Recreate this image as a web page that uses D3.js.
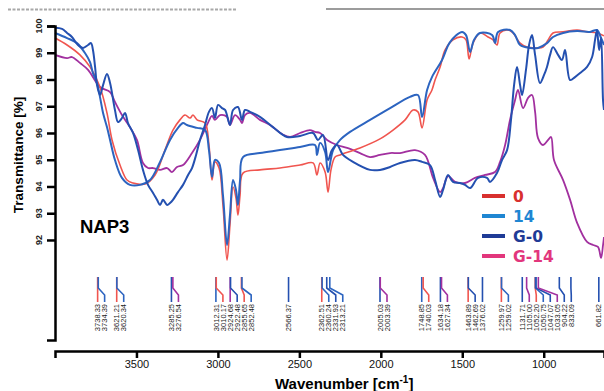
<!DOCTYPE html>
<html>
<head>
<meta charset="utf-8">
<script src="https://cdn.jsdelivr.net/npm/d3@7"></script>
<style>
  html, body { margin: 0; padding: 0; background: #fff; }
  svg { display: block; }
</style>
</head>
<body>
<div id="chart"></div>
<script>
// series names as in the legend
const seriesNames = ['0', '14', 'G-0', 'G-14'];

// [wavenumber cm-1, transmittance %]
const curve0 = [
  [4000, 99.55], [3926, 99.29], [3847, 98.92], [3785, 98.47], [3724, 97.72], [3681, 96.75],
  [3650, 95.74], [3601, 94.80], [3558, 94.24], [3521, 94.13], [3447, 94.09], [3386, 94.43],
  [3325, 95.36], [3276, 96.11], [3233, 96.49], [3202, 96.67], [3171, 96.56], [3153, 96.67],
  [3128, 96.49], [3079, 96.37], [3055, 95.55], [3036, 94.24], [3018, 94.92], [2993, 94.69],
  [2969, 93.31], [2944, 91.25], [2926, 92.56], [2907, 93.98], [2889, 93.57], [2877, 92.93],
  [2864, 93.68], [2846, 94.50], [2742, 94.62], [2619, 94.69], [2496, 94.80], [2416, 94.88],
  [2392, 94.43], [2373, 94.88], [2342, 94.54], [2324, 93.79], [2306, 94.62], [2281, 95.10],
  [2250, 95.18], [2128, 95.44], [2005, 95.78], [1925, 96.11], [1851, 96.49], [1802, 96.86],
  [1772, 96.79], [1747, 96.19], [1716, 97.23], [1686, 97.61], [1667, 97.98], [1636, 98.47],
  [1606, 99.10], [1557, 99.48], [1501, 99.59], [1477, 99.48], [1458, 98.77], [1434, 99.36],
  [1391, 99.74], [1342, 99.59], [1311, 99.48], [1287, 99.29], [1268, 99.74], [1219, 99.85],
  [1188, 99.74], [1145, 99.36], [1102, 99.21], [1041, 99.18], [1004, 99.21], [973, 99.48],
  [943, 99.74], [881, 99.78], [795, 99.85], [734, 99.78], [673, 99.74], [630, 99.63]
];

const curve14 = [
  [4000, 99.74], [3926, 99.55], [3865, 99.36], [3816, 98.99], [3785, 98.65], [3767, 98.24],
  [3742, 97.87], [3724, 97.35], [3705, 96.75], [3681, 96.22], [3662, 95.74], [3632, 94.99],
  [3589, 94.32], [3540, 94.06], [3478, 94.06], [3417, 94.24], [3355, 94.92], [3294, 95.74],
  [3245, 96.19], [3214, 96.37], [3190, 96.30], [3128, 96.19], [3079, 96.11], [3055, 95.36],
  [3036, 94.36], [3018, 94.99], [2993, 94.88], [2969, 93.68], [2944, 91.81], [2926, 92.93],
  [2907, 94.24], [2889, 93.87], [2877, 93.31], [2864, 94.24], [2846, 95.10], [2742, 95.25],
  [2619, 95.36], [2496, 95.48], [2404, 95.55], [2392, 95.18], [2373, 95.63], [2342, 95.29],
  [2324, 94.54], [2293, 95.36], [2250, 95.74], [2189, 96.04], [2066, 96.49], [1943, 96.93],
  [1821, 97.35], [1772, 97.42], [1747, 96.60], [1716, 97.61], [1686, 98.09], [1624, 98.73],
  [1575, 99.40], [1501, 99.78], [1477, 99.66], [1452, 99.03], [1428, 99.48], [1391, 99.74],
  [1317, 99.66], [1299, 99.36], [1280, 99.78], [1207, 99.85], [1176, 99.66], [1145, 99.29],
  [1084, 99.18], [1035, 99.18], [980, 99.36], [943, 99.59], [881, 99.74], [795, 99.81],
  [716, 99.78], [673, 99.85], [648, 99.55], [630, 99.29]
];

const curveG0 = [
  [4000, 99.93], [3957, 99.89], [3926, 99.74], [3896, 99.59], [3859, 99.29], [3828, 99.18],
  [3797, 99.29], [3779, 99.36], [3767, 99.10], [3754, 98.47], [3742, 97.79], [3724, 97.42],
  [3705, 97.79], [3681, 98.21], [3662, 97.87], [3632, 96.86], [3613, 96.41], [3589, 96.56],
  [3570, 96.75], [3552, 96.37], [3521, 96.00], [3490, 95.36], [3460, 94.62], [3429, 94.06],
  [3398, 93.76], [3374, 93.50], [3355, 93.31], [3337, 93.50], [3312, 93.31], [3294, 93.38],
  [3276, 93.50], [3245, 93.79], [3214, 94.06], [3183, 94.43], [3159, 94.69], [3134, 95.18],
  [3110, 95.74], [3079, 96.30], [3055, 96.79], [3036, 96.93], [3018, 96.56], [2999, 97.05],
  [2975, 96.93], [2956, 96.86], [2926, 96.30], [2907, 96.86], [2877, 96.97], [2852, 96.49],
  [2834, 96.86], [2803, 96.79], [2742, 96.60], [2662, 96.22], [2576, 95.85], [2496, 95.89],
  [2416, 96.00], [2386, 95.74], [2355, 95.93], [2324, 94.99], [2300, 95.36], [2269, 95.55],
  [2232, 95.18], [2171, 94.92], [2066, 94.62], [2005, 94.62], [1943, 94.73], [1882, 94.88],
  [1790, 94.99], [1747, 94.92], [1698, 94.80], [1667, 94.24], [1636, 93.61], [1618, 93.87],
  [1587, 94.43], [1557, 94.17], [1514, 94.13], [1483, 94.06], [1452, 93.94], [1403, 94.32],
  [1348, 94.32], [1330, 94.17], [1287, 94.50], [1256, 94.99], [1225, 95.36], [1201, 96.49],
  [1182, 97.79], [1164, 98.47], [1145, 97.79], [1133, 97.42], [1109, 98.36], [1090, 99.29],
  [1072, 99.66], [1053, 98.92], [1023, 97.87], [998, 98.17], [980, 98.47], [961, 98.92],
  [943, 99.21], [912, 98.92], [888, 98.73], [869, 99.10], [838, 97.98], [808, 98.09],
  [777, 98.24], [734, 98.47], [703, 98.84], [685, 99.48], [673, 99.85], [660, 99.10],
  [648, 99.55], [636, 97.23], [630, 96.86]
];

const curveG14 = [
  [4000, 98.92], [3926, 98.80], [3896, 98.84], [3847, 98.62], [3797, 98.36], [3724, 97.72],
  [3662, 97.53], [3632, 97.16], [3589, 96.67], [3540, 96.22], [3497, 95.74], [3460, 94.88],
  [3429, 94.69], [3398, 94.69], [3355, 94.62], [3312, 94.69], [3282, 94.54], [3251, 94.73],
  [3214, 94.80], [3159, 95.25], [3110, 95.74], [3067, 96.30], [3036, 96.64], [3018, 96.49],
  [2987, 96.67], [2944, 96.60], [2926, 96.30], [2895, 96.67], [2864, 96.49], [2852, 96.37],
  [2834, 96.67], [2803, 96.75], [2742, 96.49], [2680, 96.30], [2606, 95.96], [2557, 95.85],
  [2496, 96.00], [2435, 96.11], [2404, 96.04], [2373, 96.00], [2330, 95.74], [2269, 95.55],
  [2207, 95.44], [2128, 95.25], [2066, 95.10], [2005, 95.18], [1943, 95.25], [1882, 95.25],
  [1790, 95.36], [1729, 95.18], [1679, 94.32], [1636, 93.79], [1618, 93.94], [1587, 94.39],
  [1544, 94.17], [1483, 94.13], [1422, 94.32], [1360, 94.43], [1299, 94.54], [1268, 94.92],
  [1237, 95.55], [1207, 96.49], [1176, 97.23], [1158, 97.61], [1127, 96.93], [1096, 97.31],
  [1072, 97.42], [1053, 96.79], [1035, 95.81], [1004, 95.55], [973, 95.74], [955, 95.85],
  [937, 94.99], [881, 94.24], [838, 93.50], [795, 92.64], [734, 91.93], [697, 91.81],
  [667, 91.74], [648, 91.33], [636, 91.81], [630, 92.11]
];

const yTicks = [92, 93, 94, 95, 96, 97, 98, 99, 100];
const xTicks = [3500, 3000, 2500, 2000, 1500, 1000];

// peak labels [text, series]
const peaks = [
  ['3738.33', '0'], ['3734.39', '14'],
  ['3621.21', '0'], ['3620.34', '14'],
  ['3285.25', 'G-0'], ['3276.54', 'G-14'],
  ['3012.31', '14'], ['3010.17', '0'],
  ['2924.68', 'G-14'], ['2922.48', 'G-0'], ['2855.65', '0'], ['2852.48', '14'],
  ['2566.37', 'G-0'],
  ['2362.51', '0'], ['2360.24', '14'], ['2331.93', 'G-0'], ['2313.21', '14'],
  ['2005.03', 'G-0'], ['2003.39', 'G-14'],
  ['1748.85', '14'], ['1740.03', '0'],
  ['1634.18', 'G-0'], ['1627.34', 'G-14'],
  ['1463.89', '0'], ['1462.69', 'G-0'],
  ['1376.02', 'G-0'],
  ['1259.97', '0'], ['1259.02', '14'],
  ['1131.71', 'G-0'], ['1105.00', 'G-14'], ['1052.20', '0'], ['1050.75', '14'],
  ['1047.07', 'G-0'], ['1033.05', 'G-14'],
  ['904.22', 'G-0'], ['833.09', 'G-0'],
  ['661.82', 'G-0']
];

const width = 604, height = 391;

const lineColor = {'0': '#f0554f', '14': '#2c64c0', 'G-0': '#2450b0', 'G-14': '#a2309f'};
const legendColor = {'0': '#d8302e', '14': '#1f86d2', 'G-0': '#1f3b96', 'G-14': '#e2367c'};

const svg = d3.select('#chart').append('svg')
  .attr('width', width)
  .attr('height', height)
  .style('font-family', '"Liberation Sans", Arial, sans-serif');

const x = d3.scaleLinear().domain([4000, 630]).range([55, 604]);
const y = d3.scaleLinear().domain([88.26, 100]).range([340, 26]);

// scan leftovers along the top edge
svg.append('line').attr('x1', 8).attr('x2', 236).attr('y1', 9.5).attr('y2', 9.5)
  .style('stroke', '#a8a8a8').style('stroke-width', 2).style('stroke-dasharray', '3,1.5');
svg.append('line').attr('x1', 326).attr('x2', 604).attr('y1', 9).attr('y2', 9)
  .style('stroke', '#3a3a3a').style('stroke-width', 1.2);

// curves
const line = d3.line()
  .x(d => x(d[0]))
  .y(d => y(d[1]))
  .curve(d3.curveCatmullRom.alpha(0.5));

const curves = [
  {name: 'G-14', data: curveG14, w: 1.8},
  {name: '0', data: curve0, w: 1.6},
  {name: '14', data: curve14, w: 2},
  {name: 'G-0', data: curveG0, w: 2}
];

svg.append('g')
  .selectAll('path')
  .data(curves)
  .enter()
  .append('path')
  .attr('d', d => line(d.data))
  .style('fill', 'none')
  .style('stroke', d => lineColor[d.name])
  .style('stroke-width', d => d.w)
  .style('stroke-linejoin', 'round');

// y axis
const yAxis = svg.append('g')
  .attr('transform', 'translate(55,0)')
  .call(d3.axisLeft(y).tickValues(yTicks).tickSize(8).tickSizeOuter(8).tickFormat(''));
yAxis.selectAll('path, line').style('stroke', '#000').style('stroke-width', 2.5);

svg.append('g')
  .selectAll('text')
  .data(yTicks)
  .enter()
  .append('text')
  .attr('transform', d => `translate(41.5,${y(d)}) rotate(-90)`)
  .attr('text-anchor', 'middle')
  .style('font-size', '9px')
  .style('font-weight', 'bold')
  .style('fill', '#222')
  .text(d => d);

// x axis
const xAxis = svg.append('g')
  .attr('transform', 'translate(0,351)')
  .call(d3.axisBottom(x).tickValues(xTicks).tickFormat(d3.format('d'))
    .tickSize(7).tickSizeOuter(7).tickPadding(2));
xAxis.selectAll('path, line').style('stroke', '#000').style('stroke-width', 2.5);
xAxis.selectAll('text').style('font-size', '11px').style('fill', '#111')
  .style('font-family', '"Liberation Sans", Arial, sans-serif');

// axis titles
svg.append('text')
  .attr('transform', 'translate(23,155) rotate(-90)')
  .attr('text-anchor', 'middle')
  .style('font-size', '13.5px')
  .style('font-weight', 'bold')
  .text('Transmittance [%]');

const xt = svg.append('text')
  .attr('x', 275)
  .attr('y', 389)
  .style('font-size', '15px')
  .style('font-weight', 'bold');
xt.append('tspan').text('Wavenumber [cm');
xt.append('tspan').attr('dy', -6).style('font-size', '10px').text('-1');
xt.append('tspan').attr('dy', 6).text(']');

// sample name
svg.append('text')
  .attr('x', 80)
  .attr('y', 233)
  .style('font-size', '18.5px')
  .style('font-weight', 'bold')
  .text('NAP3');

// peak markers: straight down from the peak, then bent to a free label slot
const gap = 7;
let last = -Infinity;
const placed = peaks.map(([t, s]) => {
  const top = x(+t);
  const lab = Math.max(top, last + gap);
  last = lab;
  return {t, s, top, lab};
});

const pk = svg.append('g');
pk.selectAll('path')
  .data(placed)
  .enter()
  .append('path')
  .attr('d', d => `M${d.top},277V288L${d.lab},295V302`)
  .style('fill', 'none')
  .style('stroke', d => lineColor[d.s])
  .style('stroke-width', 1.6);

pk.selectAll('text')
  .data(placed)
  .enter()
  .append('text')
  .attr('transform', d => `translate(${d.lab + 2.6},304) rotate(-90)`)
  .attr('text-anchor', 'end')
  .style('font-size', '7.5px')
  .style('fill', '#222')
  .text(d => d.t);

// legend
const lg = svg.append('g')
  .selectAll('g')
  .data(seriesNames)
  .enter()
  .append('g')
  .attr('transform', (d, i) => `translate(482,${196 + i * 20})`);

lg.append('line')
  .attr('x1', 0).attr('x2', 23)
  .style('stroke', d => legendColor[d])
  .style('stroke-width', 4);

lg.append('text')
  .attr('x', 31)
  .attr('dy', '0.36em')
  .style('font-family', '"DejaVu Sans", sans-serif')
  .style('font-size', '15.5px')
  .style('font-weight', 'bold')
  .style('fill', d => legendColor[d])
  .text(d => d);
</script>
</body>
</html>
